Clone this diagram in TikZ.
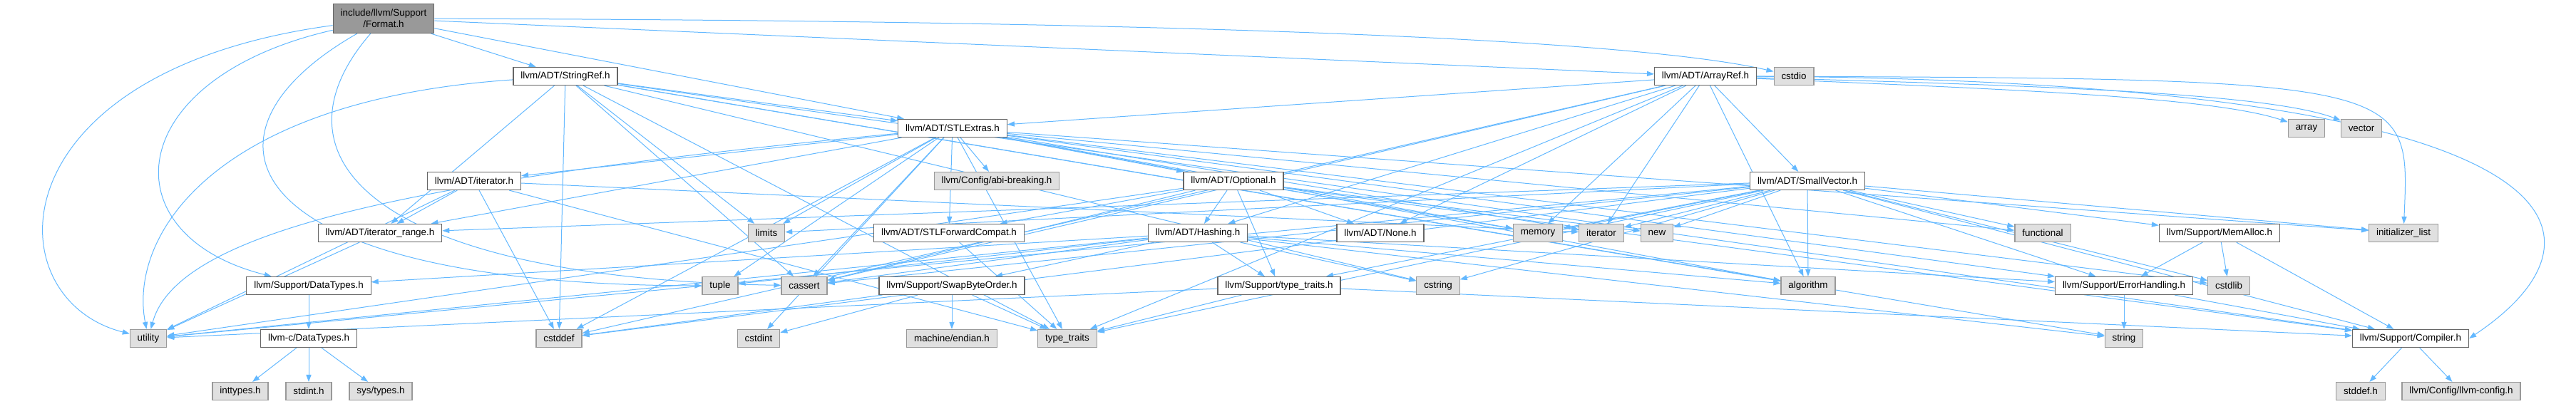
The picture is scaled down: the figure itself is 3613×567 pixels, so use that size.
\documentclass[tikz,border=0pt]{standalone}
\usepackage{fontspec}
\setmainfont{Liberation Sans}
\usepackage{xcolor}
\usepackage{tikz}
\usetikzlibrary{arrows.meta, positioning}

\definecolor{edgeblue}{HTML}{63B8FF}
\definecolor{nodeborder}{HTML}{666666}
\definecolor{sysborder}{HTML}{999999}
\definecolor{sysfill}{HTML}{E0E0E0}
\definecolor{rootfill}{HTML}{999999}

\pgfdeclarelayer{bg}
\pgfsetlayers{bg,main}

\begin{document}
\begin{tikzpicture}[
    % one unit = one pixel of the dot output
    x=0.5pt, y=-0.5pt,
    base/.style={rectangle, font=\fontsize{6.7}{8}\selectfont, minimum height=12.5pt,
                 inner xsep=5.2pt, inner ysep=1pt, line width=0.6pt},
    root/.style={base, align=center, draw=nodeborder, fill=rootfill, minimum height=20.5pt},
    header/.style={base, draw=nodeborder, fill=white},
    stdhdr/.style={base, draw=sysborder, fill=sysfill},
    arrow/.style={draw=edgeblue, line width=0.5pt,
                  -{Triangle[length=5pt,width=3.6pt,fill=edgeblue]}}
]
\useasboundingbox (0,0) rectangle (3613,567);

%% ── Rows 0-2 ─────────────────────────────────────────────────
\node (fmt) [root] at (538,26) {include/llvm/Support\\/Format.h};

\node (strref) [header] at (793,107) {llvm/ADT/StringRef.h};
\node (arrref) [header] at (2392,107) {llvm/ADT/ArrayRef.h};
\node (cstdio) [stdhdr] at (2516,107) {cstdio};

\node (stlext) [header] at (1336,180) {llvm/ADT/STLExtras.h};
\node (array)  [stdhdr] at (3235,180) {array};
\node (vector) [stdhdr] at (3312,180) {vector};

%% ── Rows 3-4 ─────────────────────────────────────────────────
\node (iter)     [header] at (665,254) {llvm/ADT/iterator.h};
\node (abi)      [stdhdr] at (1398,254) {llvm/Config/abi-breaking.h};
\node (optional) [header] at (1730,254) {llvm/ADT/Optional.h};
\node (smallvec) [header] at (2535,254) {llvm/ADT/SmallVector.h};

\node (itrange)    [header] at (533,327) {llvm/ADT/iterator\_range.h};
\node (limits)     [stdhdr] at (1075,327) {limits};
\node (stlfwd)     [header] at (1331,327) {llvm/ADT/STLForwardCompat.h};
\node (hashing)    [header] at (1680,327) {llvm/ADT/Hashing.h};
\node (none)       [header] at (1936,327) {llvm/ADT/None.h};
\node (memory)     [stdhdr] at (2157,327) {memory};
\node (iterator)   [stdhdr] at (2246,327) {iterator};
\node (new)        [stdhdr] at (2324,327) {new};
\node (functional) [stdhdr] at (2865,327) {functional};
\node (memalloc)   [header] at (3113,327) {llvm/Support/MemAlloc.h};
\node (initlist)   [stdhdr] at (3371,327) {initializer\_list};

%% ── Rows 5-7 ─────────────────────────────────────────────────
\node (datatypes) [header] at (433,401) {llvm/Support/DataTypes.h};
\node (tuple)     [stdhdr] at (1010,401) {tuple};
\node (cassert)   [stdhdr] at (1128,401) {cassert};
\node (swapbyte)  [header] at (1335,401) {llvm/Support/SwapByteOrder.h};
\node (sptraits)  [header] at (1794,401) {llvm/Support/type\_traits.h};
\node (cstring)   [stdhdr] at (2017,401) {cstring};
\node (algorithm) [stdhdr] at (2536,401) {algorithm};
\node (errhand)   [header] at (2979,401) {llvm/Support/ErrorHandling.h};
\node (cstdlib)   [stdhdr] at (3126,401) {cstdlib};

\node (utility)    [stdhdr] at (208,475) {utility};
\node (cdatatypes) [header] at (433,475) {llvm-c/DataTypes.h};
\node (cstddef)    [stdhdr] at (784,475) {cstddef};
\node (cstdint)    [stdhdr] at (1064,475) {cstdint};
\node (endian)     [stdhdr] at (1335,475) {machine/endian.h};
\node (typetraits) [stdhdr] at (1497,475) {type\_traits};
\node (string)     [stdhdr] at (2979,475) {string};
\node (compiler)   [header] at (3381,475) {llvm/Support/Compiler.h};

\node (inttypes)   [stdhdr] at (337,549) {inttypes.h};
\node (stdint)     [stdhdr] at (433,549) {stdint.h};
\node (systypes)   [stdhdr] at (534,549) {sys/types.h};
\node (stddef)     [stdhdr] at (3311,549) {stddef.h};
\node (llvmconfig) [stdhdr] at (3452,549) {llvm/Config/llvm-config.h};

%% ── Include edges ────────────────────────────────────────────
\begin{pgfonlayer}{bg}
% Format.h
\draw [arrow] (fmt) -- (arrref);
\draw [arrow] (fmt) -- (stlext);
\draw [arrow] (fmt) -- (strref);
\draw [arrow] (fmt) .. controls (170,110) and (150,330) .. (datatypes);
\draw [arrow] (fmt) .. controls (370,220) and (520,390) .. (cassert);
\draw [arrow] (fmt) .. controls (1400,28) and (2250,45) .. (cstdio);
\draw [arrow] (fmt) .. controls (250,190) and (330,400) .. (tuple);
\draw [arrow] (fmt) .. controls (-10,100) and (-10,420) .. (utility);
% StringRef.h
\draw [arrow] (strref) -- (stlext);
\draw [arrow] (strref) -- (itrange);
\draw [arrow] (strref) -- (compiler);
\draw [arrow] (strref) -- (algorithm);
\draw [arrow] (strref) -- (cassert);
\draw [arrow] (strref) -- (cstddef);
\draw [arrow] (strref) -- (cstring);
\draw [arrow] (strref) -- (limits);
\draw [arrow] (strref) -- (string);
\draw [arrow] (strref) -- (typetraits);
\draw [arrow] (strref) .. controls (300,140) and (180,330) .. (utility);
% STLExtras.h
\draw [arrow] (stlext) -- (optional);
\draw [arrow] (stlext) -- (stlfwd);
\draw [arrow] (stlext) -- (iter);
\draw [arrow] (stlext) -- (itrange);
\draw [arrow] (stlext) -- (abi);
\draw [arrow] (stlext) -- (errhand);
\draw [arrow] (stlext) -- (algorithm);
\draw [arrow] (stlext) -- (cassert);
\draw [arrow] (stlext) -- (cstddef);
\draw [arrow] (stlext) -- (cstdint);
\draw [arrow] (stlext) -- (cstdlib);
\draw [arrow] (stlext) -- (functional);
\draw [arrow] (stlext) -- (initlist);
\draw [arrow] (stlext) -- (iterator);
\draw [arrow] (stlext) -- (limits);
\draw [arrow] (stlext) -- (memory);
\draw [arrow] (stlext) -- (tuple);
\draw [arrow] (stlext) -- (typetraits);
\draw [arrow] (stlext) .. controls (600,250) and (250,320) .. (utility);
% ArrayRef.h
\draw [arrow] (arrref) -- (hashing);
\draw [arrow] (arrref) -- (none);
\draw [arrow] (arrref) -- (smallvec);
\draw [arrow] (arrref) -- (stlext);
\draw [arrow] (arrref.east) .. controls (3640,115) and (3680,330) .. (compiler.east);
\draw [arrow] (arrref) -- (algorithm);
\draw [arrow] (arrref) .. controls (2800,125) and (3100,135) .. (array);
\draw [arrow] (arrref) -- (cassert);
\draw [arrow] (arrref) -- (cstddef);
\draw [arrow] (arrref) .. controls (3390,110) and (3380,115) .. (initlist);
\draw [arrow] (arrref) -- (iterator);
\draw [arrow] (arrref) -- (memory);
\draw [arrow] (arrref) -- (typetraits);
\draw [arrow] (arrref) .. controls (2850,120) and (3180,130) .. (vector);
% Optional.h
\draw [arrow] (optional) -- (hashing);
\draw [arrow] (optional) -- (none);
\draw [arrow] (optional) -- (stlfwd);
\draw [arrow] (optional) -- (compiler);
\draw [arrow] (optional) -- (sptraits);
\draw [arrow] (optional) -- (cassert);
\draw [arrow] (optional) -- (memory);
\draw [arrow] (optional) -- (new);
\draw [arrow] (optional) -- (utility);
% Hashing.h
\draw [arrow] (hashing) -- (datatypes);
\draw [arrow] (hashing) -- (errhand);
\draw [arrow] (hashing) -- (swapbyte);
\draw [arrow] (hashing) -- (sptraits);
\draw [arrow] (hashing) -- (algorithm);
\draw [arrow] (hashing) -- (cassert);
\draw [arrow] (hashing) -- (cstring);
\draw [arrow] (hashing) -- (string);
\draw [arrow] (hashing) -- (tuple);
\draw [arrow] (hashing) -- (utility);
% SwapByteOrder.h, type_traits.h, STLForwardCompat.h
\draw [arrow] (swapbyte) -- (cstddef);
\draw [arrow] (swapbyte) -- (cstdint);
\draw [arrow] (swapbyte) -- (endian);
\draw [arrow] (swapbyte) -- (typetraits);
\draw [arrow] (sptraits) -- (compiler);
\draw [arrow] (sptraits) -- (typetraits);
\draw [arrow] (sptraits) -- (utility);
\draw [arrow] (stlfwd) -- (typetraits);
% iterator.h, iterator_range.h
\draw [arrow] (iter) -- (itrange);
\draw [arrow] (iter) -- (cstddef);
\draw [arrow] (iter) -- (iterator);
\draw [arrow] (iter) -- (typetraits);
\draw [arrow] (iter) -- (utility);
\draw [arrow] (itrange) -- (utility);
% SmallVector.h
\draw [arrow] (smallvec) -- (itrange);
\draw [arrow] (smallvec) -- (compiler);
\draw [arrow] (smallvec) -- (errhand);
\draw [arrow] (smallvec) -- (memalloc);
\draw [arrow] (smallvec) -- (sptraits);
\draw [arrow] (smallvec) -- (algorithm);
\draw [arrow] (smallvec) -- (cassert);
\draw [arrow] (smallvec) -- (cstddef);
\draw [arrow] (smallvec) -- (cstdlib);
\draw [arrow] (smallvec) -- (cstring);
\draw [arrow] (smallvec) -- (functional);
\draw [arrow] (smallvec) -- (initlist);
\draw [arrow] (smallvec) -- (iterator);
\draw [arrow] (smallvec) -- (limits);
\draw [arrow] (smallvec) -- (memory);
\draw [arrow] (smallvec) -- (new);
\draw [arrow] (smallvec) -- (typetraits);
\draw [arrow] (smallvec) -- (utility);
% MemAlloc.h, ErrorHandling.h, Compiler.h
\draw [arrow] (memalloc) -- (compiler);
\draw [arrow] (memalloc) -- (errhand);
\draw [arrow] (memalloc) -- (cstdlib);
\draw [arrow] (errhand) -- (compiler);
\draw [arrow] (errhand) -- (string);
\draw [arrow] (compiler) -- (stddef);
\draw [arrow] (compiler) -- (llvmconfig);
% DataTypes.h
\draw [arrow] (datatypes) -- (cdatatypes);
\draw [arrow] (cdatatypes) -- (inttypes);
\draw [arrow] (cdatatypes) -- (stdint);
\draw [arrow] (cdatatypes) -- (systypes);
\end{pgfonlayer}

\end{tikzpicture}
\end{document}
